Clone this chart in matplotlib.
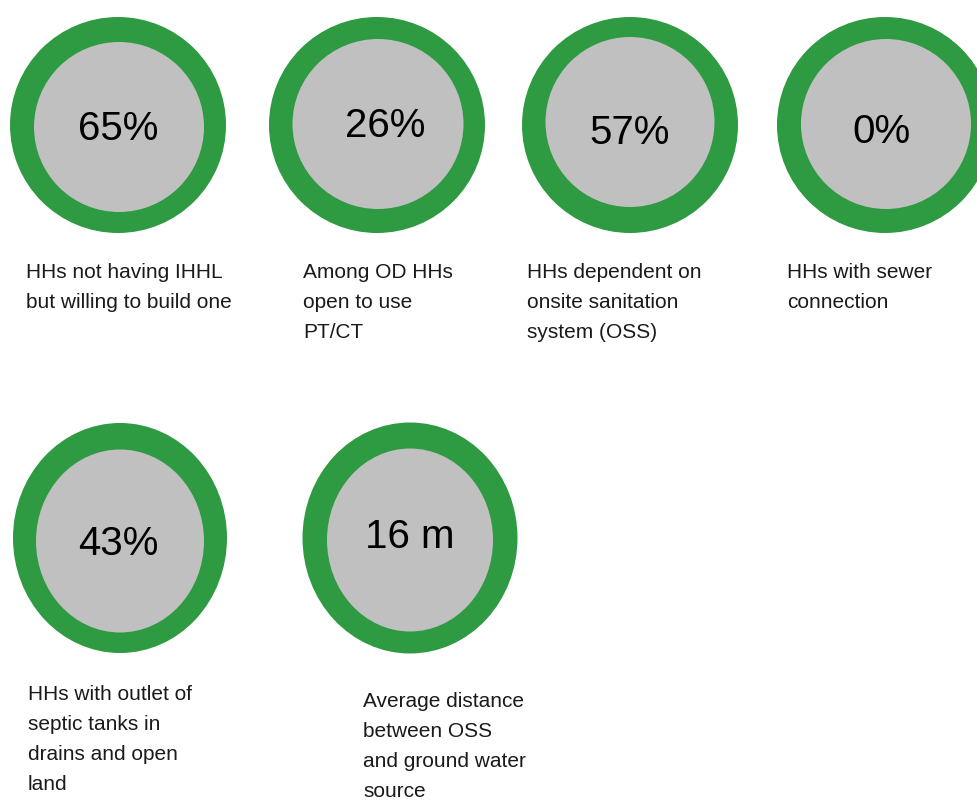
import matplotlib.pyplot as plt
from matplotlib.patches import Ellipse

plt.rcParams['font.family'] = ['Liberation Sans', 'DejaVu Sans']

# values shown inside the rings
values = ["65%", "26%", "57%", "0%", "43%", "16 m"]
captions = [
    "HHs not having IHHL\nbut willing to build one",
    "Among OD HHs\nopen to use\nPT/CT",
    "HHs dependent on\nonsite sanitation\nsystem (OSS)",
    "HHs with sewer\nconnection",
    "HHs with outlet of\nseptic tanks in\ndrains and open\nland",
    "Average distance\nbetween OSS\nand ground water\nsource",
]

# layout (pixels, y going down)
ring_xy = [(118, 125), (377, 125), (630, 125), (885, 125), (120, 538), (410, 538)]
ring_wh = [(216, 216), (216, 216), (216, 216), (216, 216), (214, 230), (215, 231)]
inner_xy = [(119, 127), (378, 124), (630, 122), (886, 124), (120, 541), (410, 540)]
inner_wh = [(170, 170), (171, 170), (169, 170), (170, 170), (168, 183), (166, 183)]
value_xy = [(118, 140), (385, 137), (630, 144), (881, 143), (118, 555), (410, 548)]
value_size = [29, 29, 29, 29, 29, 29]
caption_xy = [(26, 263), (303, 263), (527, 263), (787, 263), (28, 685), (363, 692)]

green = "#2E9A42"
grey = "#C0C0C0"

fig = plt.figure(figsize=(9.78, 8.02), dpi=100)
ax = fig.add_axes([0, 0, 1, 1])
ax.set_xlim(0, 978)
ax.set_ylim(802, 0)
ax.axis("off")

for i in range(len(values)):
    (x, y), (w, h) = ring_xy[i], ring_wh[i]
    ax.add_patch(Ellipse((x, y), w, h, facecolor=green, edgecolor="none"))
    (x, y), (w, h) = inner_xy[i], inner_wh[i]
    ax.add_patch(Ellipse((x, y), w, h, facecolor=grey, edgecolor="none"))
    vx, vy = value_xy[i]
    ax.text(vx, vy, values[i], ha="center", va="baseline",
            fontsize=value_size[i], color="black")
    cx, cy = caption_xy[i]
    ax.text(cx, cy, captions[i], ha="left", va="top", fontsize=15,
            color="#1a1a1a", linespacing=1.73)

fig.savefig("out.png", dpi=100)
